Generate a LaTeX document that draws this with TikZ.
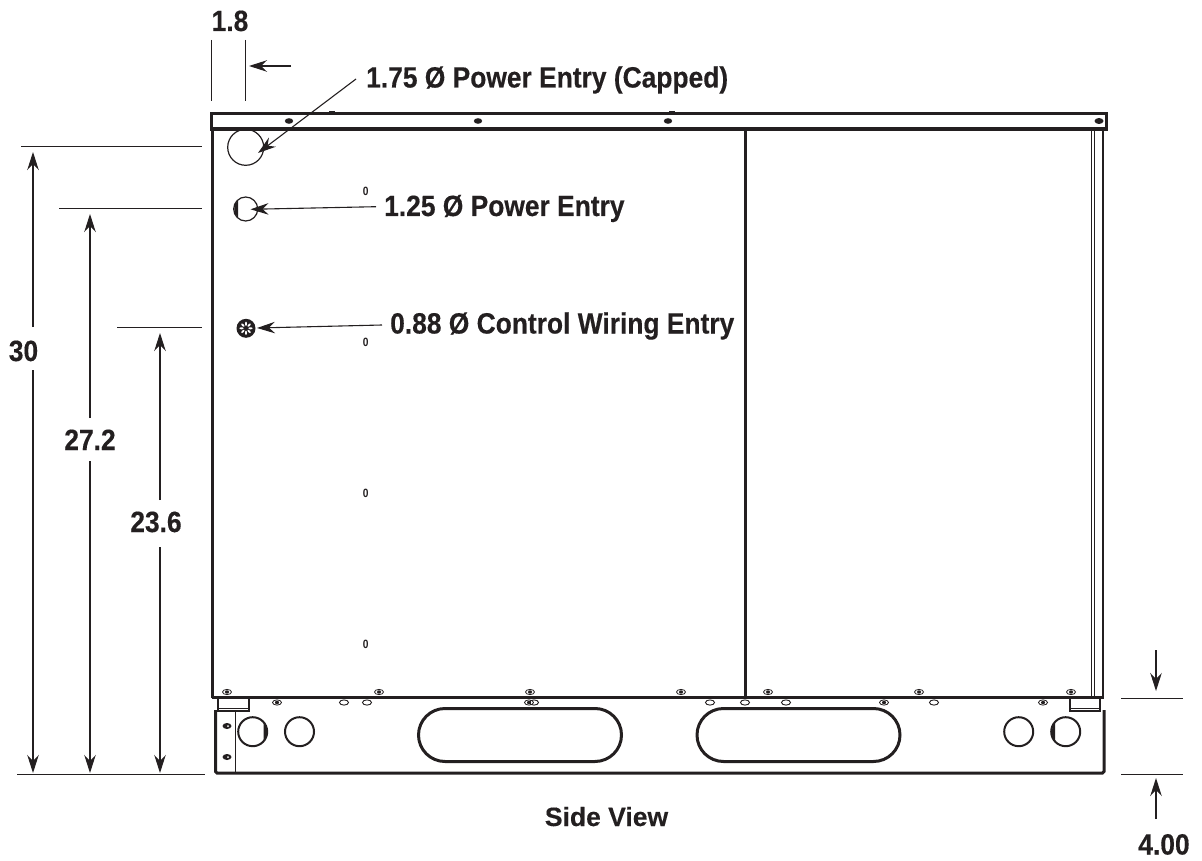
\documentclass[tikz,border=0pt]{standalone}
\usepackage{fontspec}
\setmainfont[FakeStretch=0.9,BoldFeatures={FakeBold=0.35}]{Liberation Sans}
\newfontfamily\svfont[BoldFeatures={FakeBold=0.2}]{Liberation Sans}
\newfontfamily\zerofont[FakeStretch=0.85]{Liberation Sans}
\usetikzlibrary{arrows.meta}
\definecolor{ink}{HTML}{231F20}
\tikzset{
  lbl/.style={font=\fontsize{29.3}{32}\selectfont\bfseries,text=ink,inner sep=0pt,anchor=base},
  svlbl/.style={font=\svfont\fontsize{26.5}{28}\selectfont\bfseries,text=ink,inner sep=0pt,anchor=base},
  thin line/.style={draw=ink,line width=0.9pt},
  wall/.style={draw=ink,line width=2.6pt},
  heavy/.style={draw=ink,line width=4.4pt},
  hole/.style={draw=ink,line width=1.2pt},
  basehole/.style={draw=ink,line width=2pt},
  slot/.style={draw=ink,line width=3pt,rounded corners=26.5pt},
  arr/.style={draw=ink,line width=1.1pt,-{Stealth[length=18pt,width=11.5pt,inset=6pt]}},
  zero/.style={font=\zerofont\fontsize{12}{12}\selectfont\bfseries,text=ink,inner sep=0pt},
}
\newcommand{\myscrew}[2]{\draw[ink,line width=0.8pt] (#1,#2) ellipse (4.5 and 2.6);\fill[ink] (#1,#2) ellipse (2 and 1.7);}
\newcommand{\myoval}[2]{\draw[ink,line width=0.9pt,fill=white] (#1,#2) ellipse (4.5 and 2.6);}
\begin{document}
\begin{tikzpicture}[x=1pt,y=-1pt]
\useasboundingbox (0,0) rectangle (1202,861);
% housing
\draw[wall] (211.5,130) -- (211.5,113.5) -- (1106.5,113.5) -- (1106.5,130);
\draw[heavy] (210,129) -- (1108,129);
\draw[wall] (212.5,129) -- (212.5,697) -- (1104,697);
\draw[draw=ink,line width=3.2pt] (745.5,130) -- (745.5,697);
\draw[draw=ink,line width=1.4pt] (1091.5,130) -- (1091.5,696);
\draw[draw=ink,line width=1pt] (1094,130) -- (1094,696);
\draw[draw=ink,line width=2.2pt] (1103,130) -- (1103,696);
\draw[draw=ink,line width=3.6pt] (212,697.5) -- (1104,697.5);
% base
\draw[draw=ink,line width=3pt,rounded corners=1.5pt] (215.5,710) -- (215.5,773) -- (1104,773) -- (1104,710);
\draw[thin line] (235,711) -- (235,772);
\draw[draw=ink,line width=1.2pt] (218,698) rectangle (249,711);
\draw[draw=ink,line width=0.7pt] (218,708) -- (249,708);
\draw[draw=ink,line width=1.2pt] (1070,698) rectangle (1100,711);
\draw[draw=ink,line width=0.7pt] (1070,708) -- (1100,708);
\draw[draw=ink,line width=0.8pt] (1100,698) -- (1103,698);
% slots
\draw[slot] (418.5,708.5) rectangle (621.5,761.5);
\draw[slot] (697,708.5) rectangle (900,761.5);
% base holes
\draw[basehole] (252.7,731.7) circle (14.5);
\fill[ink] (263.5,722) .. controls (267.5,727) and (267.5,737) .. (263.5,741.5) -- cycle;
\draw[basehole] (299.5,731.7) circle (14.5);
\draw[basehole] (1018.7,731.7) circle (14.5);
\draw[basehole] (1065.7,731.7) circle (14.5);
\fill[ink] (1055,722) .. controls (1051,727) and (1051,737) .. (1055,741.5) -- cycle;
% screws and slots on the seam
\foreach \x in {227,379,530,681,768,919,1071} {\myscrew{\x}{692}}
\foreach \x in {344,367,534,710,745,786,934} {\myoval{\x}{702.5}}
\foreach \x in {277,529,884,1043} {\myscrew{\x}{702.5}}
\fill[ink] (227,726) ellipse (4.5 and 3);
\fill[ink] (227,757) ellipse (4.5 and 3);
\fill[white] (228,726) circle (1);
\fill[white] (228,757) circle (1);
% top screws
\foreach \x in {289,478,668} {\fill[ink] (\x,121) ellipse (4.2 and 2.8);}
\fill[ink] (1099,121) ellipse (4.5 and 3);
\draw[ink,line width=1pt] (329,112) -- (335,112);
\draw[ink,line width=1pt] (669,112) -- (675,112);
% zeros
\node[zero] (z1) at (365.7,191) {0};
\node[zero] (z2) at (365.7,342.3) {0};
\node[zero] (z3) at (365.7,493.5) {0};
\node[zero] (z4) at (365.7,644.5) {0};
% entries
\node[circle,hole,minimum size=36pt,inner sep=0pt] (e1) at (245.7,147.3) {};
\node[circle,hole,minimum size=24pt,inner sep=0pt] (e2) at (245.7,209) {};
\fill[ink] (238,200) .. controls (233,205) and (233,213) .. (238,218) -- cycle;
\node[circle,fill=ink,minimum size=19pt,inner sep=0pt] (e3) at (246,328.3) {};
\foreach \a in {0,45,...,315} {\fill[white,rotate around={\a:(246,328.3)}] (246,323.8) ellipse (1 and 2.1);}
% labels
\node[lbl,anchor=base west] (t1) at (366,87.5) {1.75 Ø Power Entry (Capped)};
\node[lbl,anchor=base west] (t2) at (384,216) {1.25 Ø Power Entry};
\node[lbl,anchor=base west] (t3) at (390,333.5) {0.88 Ø Control Wiring Entry};
\node[lbl] (d18) at (230,31) {1.8};
\node[lbl] (d30) at (23.5,361) {30};
\node[lbl] (d272) at (90,450) {27.2};
\node[lbl] (d236) at (156,532) {23.6};
\node[lbl] (d4) at (1164,854.5) {4.00};
\node[svlbl] (sv) at (606.5,826) {Side View};
% leaders
\coordinate (l1) at (356,79);
\coordinate (tip1) at (258,153);
\coordinate (tip2) at (250.5,209.3);
\coordinate (tip3) at (257,328);
\coordinate (l2) at (376,206.7);
\coordinate (l3) at (382,325);
\draw[arr] (l1) -- (tip1);
\draw[arr] (l2) -- (tip2);
\draw[arr] (l3) -- (tip3);
% extension lines
\draw[thin line] (21,146) -- (202,146);
\draw[thin line] (59,208) -- (202,208);
\draw[thin line] (117,327.5) -- (202,327.5);
\draw[thin line] (17,774) -- (205,774);
\draw[thin line] (211,40) -- (211,101);
\draw[thin line] (245,40) -- (245,101);
\draw[thin line] (1121,698) -- (1183,698);
\draw[thin line] (1121,774) -- (1183,774);
% dimension arrows
\draw[arr] (33,327) -- (33,152);
\draw[arr] (33,370) -- (33,773);
\draw[arr] (90,418) -- (90,214);
\draw[arr] (90,461) -- (90,773);
\draw[arr] (160,500) -- (160,333);
\draw[arr] (160,547) -- (160,773);
\draw[arr] (291,66) -- (249,66);
\draw[arr] (1156,650) -- (1156,691);
\draw[arr] (1156,819) -- (1156,778);
\end{tikzpicture}
\end{document}
